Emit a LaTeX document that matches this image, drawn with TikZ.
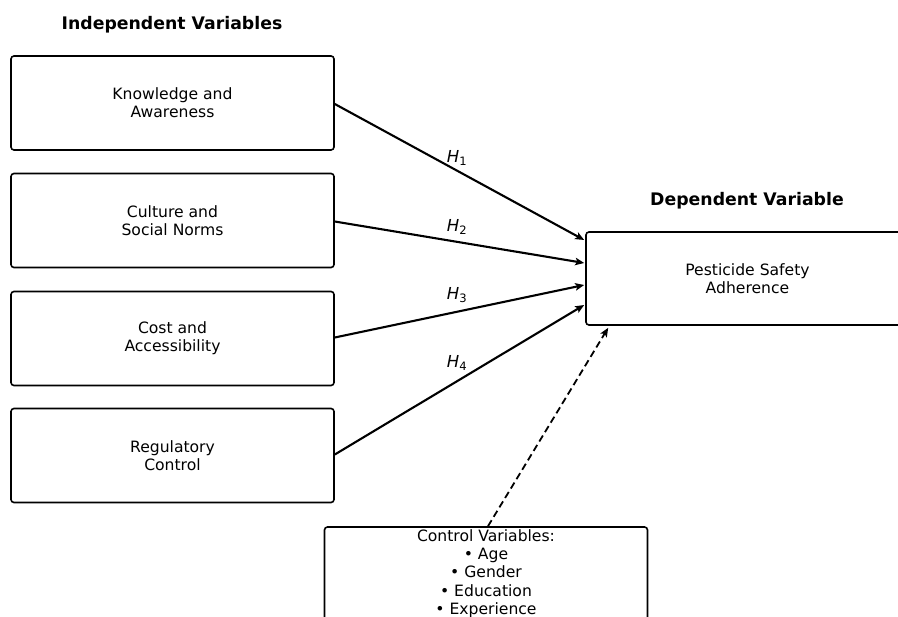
\documentclass[tikz,border=0pt]{standalone}
\usepackage{fontspec}
\setmainfont{DejaVu Sans}
\usetikzlibrary{arrows.meta,calc}
\begin{document}
\begin{tikzpicture}[x=1pt,y=-1pt,
  varbox/.style={draw,rectangle,rounded corners=3pt,line width=1.6pt,
    minimum width=323pt,minimum height=94pt,inner sep=0pt,align=center,
    font=\fontsize{15.6}{18.3}\selectfont},
  title/.style={font=\fontsize{17.3}{20}\selectfont\bfseries},
  hlab/.style={font=\fontsize{16.5}{19}\selectfont},
  link/.style={line width=2.1pt,-{Stealth[length=9pt,width=7.5pt,inset=2pt]}},
  ctrl/.style={line width=1.8pt,dashed,dash pattern=on 7pt off 4pt,-{Stealth[length=9pt,width=7.5pt,inset=2pt]}}
]
\useasboundingbox (0,0) rectangle (898,617);
\clip (0,0) rectangle (898,617);
\fill[white] (0,0) rectangle (898,617);

\node[title] (ttl1) at (172,24.5) {Independent Variables};
\node[title] (ttl2) at (747,200.5) {Dependent Variable};

\node[varbox] (iv1) at (172.5,103) {Knowledge and\\Awareness};
\node[varbox] (iv2) at (172.5,220.5) {Culture and\\Social Norms};
\node[varbox] (iv3) at (172.5,338.5) {Cost and\\Accessibility};
\node[varbox] (iv4) at (172.5,455.5) {Regulatory\\Control};

\node[varbox,minimum height=93pt] (dep) at (747.5,278.5) {Pesticide Safety\\Adherence};

\node[varbox,minimum height=93pt] (cv) at (486,573.5)
  {Control Variables:\\• Age\\• Gender\\• Education\\• Experience};

\coordinate (e1) at ($(dep.west)+(-1,-38.5)$);
\coordinate (e2) at ($(dep.west)+(-1,-15.5)$);
\coordinate (e3) at ($(dep.west)+(-1,6.5)$);
\coordinate (e4) at ($(dep.west)+(-1,26.5)$);

\draw[link] ($(iv1.east)+(0,1)$) -- (e1);
\draw[link] ($(iv2.east)+(0,1)$) -- (e2);
\draw[link] ($(iv3.east)+(0,-1)$) -- (e3);
\draw[link] ($(iv4.east)+(0,-1)$) -- (e4);

\draw[ctrl] ($(cv.north)+(2,0)$) -- ($(dep.south west)+(23,2)$);

\node[hlab] (h1) at (457,158) {\itshape H\textsubscript{\upshape 1}};
\node[hlab] (h2) at (457,227) {\itshape H\textsubscript{\upshape 2}};
\node[hlab] (h3) at (457,295) {\itshape H\textsubscript{\upshape 3}};
\node[hlab] (h4) at (457,363) {\itshape H\textsubscript{\upshape 4}};
\end{tikzpicture}
\end{document}
